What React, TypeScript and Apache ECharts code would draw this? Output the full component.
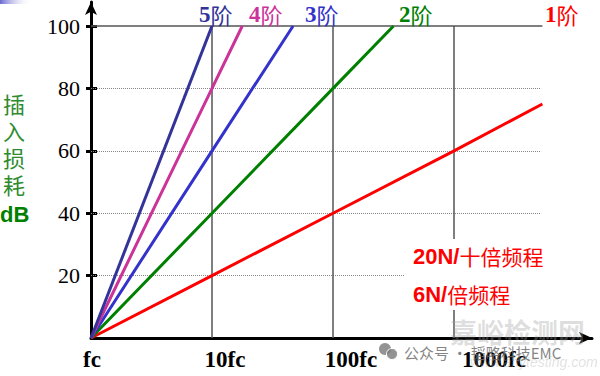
import React, { useEffect, useRef } from "react";
import * as echarts from "echarts";

// decades above fc: 0 = fc, 1 = 10fc, 2 = 100fc, 3 = 1000fc
const xTickValues = [0, 1, 2, 3];
const xTickLabels = ["fc", "10fc", "100fc", "1000fc"];
const yTickValues = [20, 40, 60, 80, 100];

const order1 = [[0, 0], [1, 20], [2, 40], [3, 60], [3.73, 75]];
const order2 = [[0, 0], [1, 40], [2, 80], [2.5, 100]];
const order3 = [[0, 0], [1, 60], [1.67, 100]];
const order4 = [[0, 0], [1, 80], [1.25, 100]];
const order5 = [[0, 0], [1, 100]];
const orderNames = ["1阶", "2阶", "3阶", "4阶", "5阶"];

const hGridDotted = [20, 40, 60, 80];
const hGridTop = 100;
const vGrid = [1, 2, 3];
const gridEnd = 3.73;

const colors = ["#ff0000", "#008000", "#3333cc", "#cc3399", "#333399"];
const labelShift: Record<string, number> = { fc: 2, "10fc": 26, "100fc": 36, "1000fc": 80 };
const topLabelPos = [
  [545, 14],
  [399, 14],
  [305, 14],
  [249, 14],
  [199, 14],
];

export default function App() {
  const ref = useRef<HTMLDivElement>(null);
  useEffect(() => {
    document.body.style.margin = "0";
    const chart = echarts.init(ref.current!, null, { renderer: "svg" });
    const serif = "'Liberation Serif', 'Times New Roman', serif";
    const cjk = "'Noto Sans CJK SC', sans-serif";
    const allOrders = [order1, order2, order3, order4, order5];

    const markData: any[] = [];
    hGridDotted.forEach((v) =>
      markData.push([
        { coord: [0, v], lineStyle: { color: "#888", type: [1, 1], width: 1 } },
        { coord: [gridEnd - 0.01, v] },
      ])
    );
    markData.push([
      { coord: [0, hGridTop], lineStyle: { color: "#555", type: "solid", width: 1.5 } },
      { coord: [gridEnd, hGridTop] },
    ]);
    vGrid.forEach((x) =>
      markData.push([
        { coord: [x, 0], lineStyle: { color: "#555", type: "solid", width: 1.5 } },
        { coord: [x, hGridTop] },
      ])
    );

    const rich: any = {};
    xTickLabels.forEach((l, i) => {
      rich["l" + i] = {
        fontFamily: serif,
        fontWeight: "bold",
        fontSize: 23,
        color: "#000",
        padding: [0, 0, 0, labelShift[l]],
      };
    });

    const yAxisBase = {
      type: "value",
      min: 0,
      max: 107.7,
      interval: 20,
      splitLine: { show: false },
    };

    chart.setOption({
      animation: false,
      grid: { left: 91, top: 2, right: 8, bottom: 38 },
      xAxis: {
        type: "value",
        min: 0,
        max: 4.14,
        interval: 1,
        splitLine: { show: false },
        axisLine: {
          lineStyle: { color: "#000", width: 3 },
          symbol: ["none", "arrow"],
          symbolSize: [9, 13],
        },
        axisTick: { show: false },
        axisLabel: {
          customValues: xTickValues,
          margin: 10,
          formatter: (v: number) => {
            const i = xTickValues.indexOf(Math.round(v));
            return i >= 0 ? `{l${i}|${xTickLabels[i]}}` : "";
          },
          rich,
        },
      },
      yAxis: [
        {
          ...yAxisBase,
          axisLine: {
            lineStyle: { color: "#000", width: 3 },
            symbol: ["none", "arrow"],
            symbolSize: [9, 13],
          },
          axisTick: { customValues: yTickValues, length: 5, lineStyle: { color: "#000", width: 3 } },
          axisLabel: {
            customValues: yTickValues,
            margin: 11,
            fontFamily: serif,
            fontSize: 22,
            color: "#000",
          },
        },
        {
          ...yAxisBase,
          position: "left",
          offset: 0,
          axisLine: { show: false },
          axisTick: { show: true, inside: true, customValues: yTickValues, length: 6, lineStyle: { color: "#000", width: 3 } },
          axisLabel: { show: false },
        },
      ],
      series: [
        {
          type: "line",
          data: [[0, 0]],
          symbol: "none",
          z: 1,
          lineStyle: { width: 0 },
          markLine: { silent: true, symbol: ["none", "none"], label: { show: false }, data: markData, z: 1 },
        },
        ...allOrders.map((d, i) => ({
          type: "line",
          name: orderNames[i],
          data: d,
          symbol: "none",
          z: 3 + i,
          lineStyle: { color: colors[i], width: 3 },
          emphasis: { disabled: true },
        })),
      ],
      graphic: [
        {
          type: "rect",
          z: 20,
          shape: { x: 0, y: 0, width: 32, height: 4 },
          style: {
            fill: new echarts.graphic.LinearGradient(0, 0, 1, 0, [
              { offset: 0, color: "#6a6ad0" },
              { offset: 1, color: "rgba(255,255,255,0)" },
            ]),
          },
        },
        ...orderNames.map((n, i) => ({
          type: "text",
          z: 20,
          x: topLabelPos[i][0],
          y: topLabelPos[i][1],
          style: {
            text: `{d|${n[0]}}{c|${n.slice(1)}}`,
            verticalAlign: "middle",
            rich: {
              d: { fontFamily: serif, fontWeight: "bold", fontSize: 23, lineHeight: 24, fill: colors[i] },
              c: { fontFamily: cjk, fontSize: 22, lineHeight: 24, fill: colors[i] },
            },
          },
        })),
        {
          type: "text",
          z: 20,
          x: 14,
          y: 143,
          style: {
            text: "插\n入\n损\n耗",
            fontFamily: cjk,
            fontSize: 22,
            lineHeight: 27,
            align: "center",
            verticalAlign: "middle",
            fill: "#2e8b2e",
          },
        },
        {
          type: "text",
          z: 20,
          x: 0,
          y: 214,
          style: {
            text: "dB",
            fontFamily: "'Liberation Sans', Arial, sans-serif",
            fontWeight: "bold",
            fontSize: 22,
            verticalAlign: "middle",
            fill: "#008000",
          },
        },
        {
          type: "rect",
          z: 20,
          shape: { x: 405, y: 239, width: 160, height: 71 },
          style: { fill: "#fff" },
        },
        {
          type: "text",
          z: 21,
          x: 413,
          y: 256,
          style: {
            text: "{a|20N/}{b|十倍频程}",
            verticalAlign: "middle",
            rich: {
              a: { fontFamily: "'Liberation Sans', Arial, sans-serif", fontWeight: "bold", fontSize: 22, fill: "#ff0000" },
              b: { fontFamily: cjk, fontSize: 21, fill: "#ff0000" },
            },
          },
        },
        {
          type: "text",
          z: 21,
          x: 413,
          y: 294,
          style: {
            text: "{a|6N/}{b|倍频程}",
            verticalAlign: "middle",
            rich: {
              a: { fontFamily: "'Liberation Sans', Arial, sans-serif", fontWeight: "bold", fontSize: 22, fill: "#ff0000" },
              b: { fontFamily: cjk, fontSize: 21, fill: "#ff0000" },
            },
          },
        },
        {
          type: "text",
          z: 22,
          x: 450,
          y: 331,
          style: {
            text: "嘉峪检测网",
            fontFamily: cjk,
            fontWeight: "bold",
            fontSize: 27,
            verticalAlign: "middle",
            fill: "rgba(160,160,160,0.35)",
          },
        },
        {
          type: "text",
          z: 22,
          x: 470,
          y: 362,
          style: {
            text: "www.anytesting.com",
            fontFamily: "'Liberation Sans', sans-serif",
            fontStyle: "italic",
            fontSize: 14,
            verticalAlign: "middle",
            fill: "rgba(170,170,170,0.35)",
          },
        },
        { type: "circle", z: 22, shape: { cx: 385, cy: 349, r: 6 }, style: { fill: "rgba(120,120,120,0.8)" } },
        { type: "circle", z: 22, shape: { cx: 392, cy: 354, r: 5.5 }, style: { fill: "rgba(120,120,120,0.8)", stroke: "#fff", lineWidth: 1 } },
        {
          type: "text",
          z: 22,
          x: 404,
          y: 352,
          style: {
            text: "公众号 · 韬略科技EMC",
            fontFamily: cjk,
            fontSize: 15,
            verticalAlign: "middle",
            fill: "rgba(110,110,110,0.85)",
          },
        },
      ],
    });
    return () => chart.dispose();
  }, []);
  return <div ref={ref} style={{ width: 600, height: 376 }} />;
}
